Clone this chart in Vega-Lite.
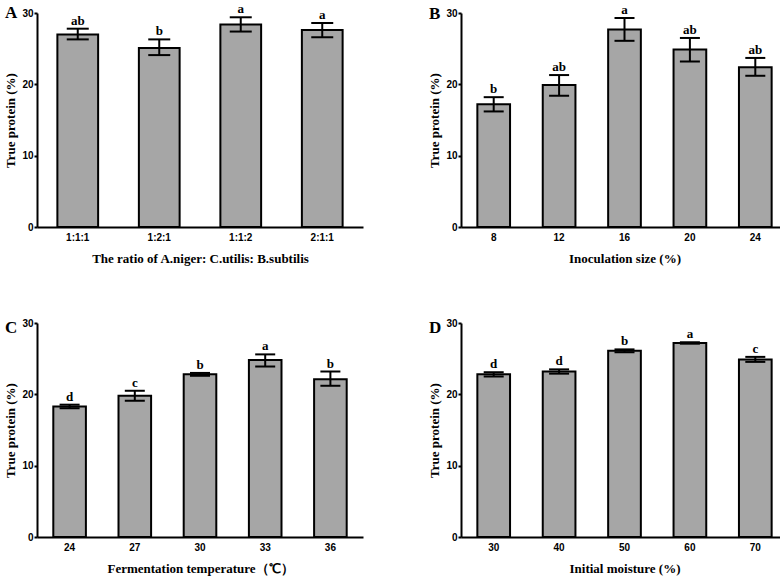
{
  "$schema": "https://vega.github.io/schema/vega-lite/v6.json",
  "background": "white",
  "padding": {"left": 4, "top": 3, "right": 2, "bottom": 2},
  "config": {
    "view": {"stroke": null},
    "axis": {"domainColor": "black", "domainWidth": 2, "tickColor": "black", "tickWidth": 2, "tickSize": 3, "grid": false, "labelFont": "Liberation Sans", "labelFontWeight": "bold", "labelFontSize": 10, "labelColor": "black", "titleFont": "Liberation Serif", "titleFontWeight": "bold", "titleFontSize": 13, "titleColor": "black"},
    "axisX": {"ticks": false, "labelAngle": 0, "labelPadding": 5, "titlePadding": 10},
    "axisY": {"labelPadding": 1, "titlePadding": 4},
    "title": {"font": "Liberation Serif", "fontSize": 17, "fontWeight": "bold", "color": "black", "anchor": "start", "frame": "bounds", "offset": 0, "dy": 23}
  },
  "spacing": 53,
  "vconcat": [
    {"hconcat": [
      {
        "width": 326, "height": 214,
        "title": "A",
        "data": {"values": [
          {"g": "1:1:1", "mean": 27.0, "low": 26.3, "high": 27.8, "sig": "ab"},
          {"g": "1:2:1", "mean": 25.1, "low": 24.1, "high": 26.3, "sig": "b"},
          {"g": "1:1:2", "mean": 28.4, "low": 27.4, "high": 29.4, "sig": "a"},
          {"g": "2:1:1", "mean": 27.6, "low": 26.6, "high": 28.6, "sig": "a"}
        ]},
        "encoding": {"x": {"field": "g", "type": "ordinal", "sort": null, "scale": {"paddingInner": 0.5, "paddingOuter": 0.25}, "axis": {"title": "The ratio of A.niger: C.utilis: B.subtilis", "titleFontWeight": "bold"}}},
        "layer": [
          {"mark": {"type": "bar", "fill": "#a6a6a6", "stroke": "black", "strokeWidth": 2}, "encoding": {"y": {"field": "mean", "type": "quantitative", "scale": {"domain": [0, 30]}, "axis": {"title": "True protein (%)", "values": [0, 10, 20, 30], "titleFontWeight": "bold"}}}},
          {"mark": {"type": "rule", "color": "black", "strokeWidth": 2}, "encoding": {"y": {"field": "low", "type": "quantitative"}, "y2": {"field": "high"}}},
          {"mark": {"type": "tick", "color": "black", "thickness": 2, "size": 22, "opacity": 1}, "encoding": {"y": {"field": "low", "type": "quantitative"}}},
          {"mark": {"type": "tick", "color": "black", "thickness": 2, "size": 22, "opacity": 1}, "encoding": {"y": {"field": "high", "type": "quantitative"}}},
          {"mark": {"type": "text", "dy": -8, "font": "Liberation Serif", "fontWeight": "bold", "fontSize": 13, "color": "black"}, "encoding": {"y": {"field": "high", "type": "quantitative"}, "text": {"field": "sig"}}}
        ]
      },
      {
        "width": 327, "height": 214,
        "title": "B",
        "data": {"values": [
          {"g": "8", "mean": 17.2, "low": 16.2, "high": 18.2, "sig": "b"},
          {"g": "12", "mean": 19.9, "low": 18.4, "high": 21.3, "sig": "ab"},
          {"g": "16", "mean": 27.7, "low": 26.1, "high": 29.3, "sig": "a"},
          {"g": "20", "mean": 24.9, "low": 23.2, "high": 26.5, "sig": "ab"},
          {"g": "24", "mean": 22.4, "low": 21.2, "high": 23.7, "sig": "ab"}
        ]},
        "encoding": {"x": {"field": "g", "type": "ordinal", "sort": null, "scale": {"paddingInner": 0.5, "paddingOuter": 0.25}, "axis": {"title": "Inoculation size (%)", "titleFontWeight": "bold"}}},
        "layer": [
          {"mark": {"type": "bar", "fill": "#a6a6a6", "stroke": "black", "strokeWidth": 2}, "encoding": {"y": {"field": "mean", "type": "quantitative", "scale": {"domain": [0, 30]}, "axis": {"title": "True protein (%)", "values": [0, 10, 20, 30], "titleFontWeight": "bold"}}}},
          {"mark": {"type": "rule", "color": "black", "strokeWidth": 2}, "encoding": {"y": {"field": "low", "type": "quantitative"}, "y2": {"field": "high"}}},
          {"mark": {"type": "tick", "color": "black", "thickness": 2, "size": 20, "opacity": 1}, "encoding": {"y": {"field": "low", "type": "quantitative"}}},
          {"mark": {"type": "tick", "color": "black", "thickness": 2, "size": 20, "opacity": 1}, "encoding": {"y": {"field": "high", "type": "quantitative"}}},
          {"mark": {"type": "text", "dy": -8, "font": "Liberation Serif", "fontWeight": "bold", "fontSize": 13, "color": "black"}, "encoding": {"y": {"field": "high", "type": "quantitative"}, "text": {"field": "sig"}}}
        ]
      }
    ], "spacing": 65},
    {"hconcat": [
      {
        "width": 326, "height": 214,
        "title": "C",
        "data": {"values": [
          {"g": "24", "mean": 18.3, "low": 18.05, "high": 18.55, "sig": "d"},
          {"g": "27", "mean": 19.8, "low": 19.1, "high": 20.5, "sig": "c"},
          {"g": "30", "mean": 22.8, "low": 22.6, "high": 23.0, "sig": "b"},
          {"g": "33", "mean": 24.8, "low": 23.9, "high": 25.6, "sig": "a"},
          {"g": "36", "mean": 22.1, "low": 21.2, "high": 23.2, "sig": "b"}
        ]},
        "encoding": {"x": {"field": "g", "type": "ordinal", "sort": null, "scale": {"paddingInner": 0.5, "paddingOuter": 0.25}, "axis": {"title": "Fermentation temperature（℃）", "titleFontWeight": "bold"}}},
        "layer": [
          {"mark": {"type": "bar", "fill": "#a6a6a6", "stroke": "black", "strokeWidth": 2}, "encoding": {"y": {"field": "mean", "type": "quantitative", "scale": {"domain": [0, 30]}, "axis": {"title": "True protein (%)", "values": [0, 10, 20, 30], "titleFontWeight": "bold"}}}},
          {"mark": {"type": "rule", "color": "black", "strokeWidth": 2}, "encoding": {"y": {"field": "low", "type": "quantitative"}, "y2": {"field": "high"}}},
          {"mark": {"type": "tick", "color": "black", "thickness": 2, "size": 20, "opacity": 1}, "encoding": {"y": {"field": "low", "type": "quantitative"}}},
          {"mark": {"type": "tick", "color": "black", "thickness": 2, "size": 20, "opacity": 1}, "encoding": {"y": {"field": "high", "type": "quantitative"}}},
          {"mark": {"type": "text", "dy": -8, "font": "Liberation Serif", "fontWeight": "bold", "fontSize": 13, "color": "black"}, "encoding": {"y": {"field": "high", "type": "quantitative"}, "text": {"field": "sig"}}}
        ]
      },
      {
        "width": 327, "height": 214,
        "title": "D",
        "data": {"values": [
          {"g": "30", "mean": 22.8, "low": 22.5, "high": 23.1, "sig": "d"},
          {"g": "40", "mean": 23.2, "low": 22.9, "high": 23.5, "sig": "d"},
          {"g": "50", "mean": 26.1, "low": 25.9, "high": 26.3, "sig": "b"},
          {"g": "60", "mean": 27.2, "low": 27.1, "high": 27.3, "sig": "a"},
          {"g": "70", "mean": 24.9, "low": 24.55, "high": 25.25, "sig": "c"}
        ]},
        "encoding": {"x": {"field": "g", "type": "ordinal", "sort": null, "scale": {"paddingInner": 0.5, "paddingOuter": 0.25}, "axis": {"title": "Initial moisture (%)", "titleFontWeight": "bold"}}},
        "layer": [
          {"mark": {"type": "bar", "fill": "#a6a6a6", "stroke": "black", "strokeWidth": 2}, "encoding": {"y": {"field": "mean", "type": "quantitative", "scale": {"domain": [0, 30]}, "axis": {"title": "True protein (%)", "values": [0, 10, 20, 30], "titleFontWeight": "bold"}}}},
          {"mark": {"type": "rule", "color": "black", "strokeWidth": 2}, "encoding": {"y": {"field": "low", "type": "quantitative"}, "y2": {"field": "high"}}},
          {"mark": {"type": "tick", "color": "black", "thickness": 2, "size": 20, "opacity": 1}, "encoding": {"y": {"field": "low", "type": "quantitative"}}},
          {"mark": {"type": "tick", "color": "black", "thickness": 2, "size": 20, "opacity": 1}, "encoding": {"y": {"field": "high", "type": "quantitative"}}},
          {"mark": {"type": "text", "dy": -8, "font": "Liberation Serif", "fontWeight": "bold", "fontSize": 13, "color": "black"}, "encoding": {"y": {"field": "high", "type": "quantitative"}, "text": {"field": "sig"}}}
        ]
      }
    ], "spacing": 65}
  ]
}
